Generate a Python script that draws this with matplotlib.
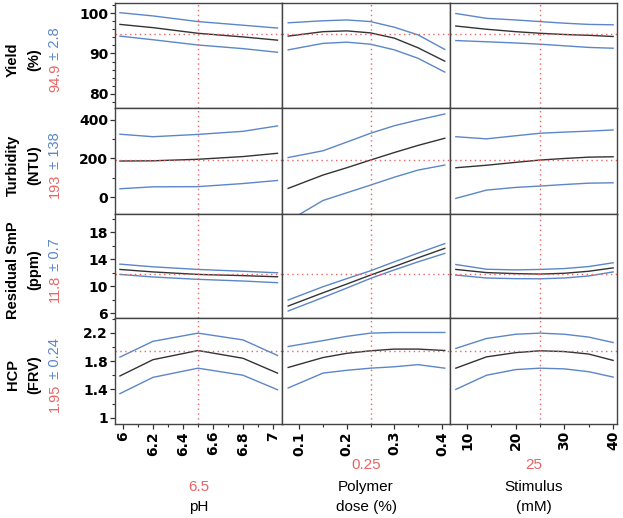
import numpy as np
import matplotlib
matplotlib.use("Agg")
import matplotlib.pyplot as plt
from matplotlib.ticker import MultipleLocator, FixedLocator, FormatStrFormatter

plt.rcParams['font.family'] = ['Liberation Sans', 'DejaVu Sans']

W, H = 623, 518
BLUE = '#5b86c8'
DARK = '#333333'
RED = '#ec6464'

# %% data read off the profiler

# factor settings (x of the curve points)
ph_x = [5.98, 6.2, 6.5, 6.8, 7.03]
dose_x = [0.077, 0.15, 0.2, 0.25, 0.3, 0.35, 0.406]
stim_x = [7.7, 14, 20, 25, 30, 35, 40]

# Yield (%)
yield_ph_hi = [100.1, 99.3, 97.9, 97.0, 96.3]
yield_ph_mid = [97.2, 96.4, 95.0, 94.1, 93.3]
yield_ph_lo = [94.3, 93.4, 92.1, 91.2, 90.3]
yield_dose_hi = [97.6, 98.1, 98.3, 97.9, 96.5, 94.6, 91.0]
yield_dose_mid = [94.3, 95.4, 95.6, 95.1, 93.8, 91.4, 88.1]
yield_dose_lo = [90.9, 92.5, 92.8, 92.3, 90.9, 88.8, 85.4]
yield_stim_hi = [99.9, 98.7, 98.3, 97.9, 97.5, 97.2, 97.1]
yield_stim_mid = [96.8, 96.0, 95.4, 95.0, 94.7, 94.5, 94.2]
yield_stim_lo = [93.2, 92.9, 92.6, 92.3, 91.9, 91.5, 91.3]

# Turbidity (NTU)
turb_ph_hi = [326, 313, 325, 341, 369]
turb_ph_mid = [187, 188, 196, 210, 227]
turb_ph_lo = [43, 53, 54, 70, 86]
turb_dose_hi = [205, 240, 285, 331, 370, 400, 431]
turb_dose_mid = [45, 114, 152, 192, 231, 268, 305]
turb_dose_lo = [-125, -18, 22, 62, 103, 140, 166]
turb_stim_hi = [313, 302, 318, 331, 337, 342, 348]
turb_stim_mid = [152, 165, 180, 192, 200, 207, 209]
turb_stim_lo = [-7, 36, 50, 57, 65, 72, 74]

# Residual SmP (ppm)
smp_ph_hi = [13.26, 12.86, 12.47, 12.2, 11.97]
smp_ph_mid = [12.47, 12.1, 11.73, 11.55, 11.38]
smp_ph_lo = [11.73, 11.35, 11.0, 10.75, 10.5]
smp_dose_hi = [7.93, 9.9, 11.1, 12.27, 13.6, 14.9, 16.3]
smp_dose_mid = [7.04, 9.0, 10.3, 11.63, 12.9, 14.2, 15.6]
smp_dose_lo = [6.3, 8.3, 9.7, 11.14, 12.4, 13.6, 14.85]
smp_stim_hi = [13.2, 12.5, 12.4, 12.47, 12.6, 12.9, 13.46]
smp_stim_mid = [12.47, 12.0, 11.85, 11.78, 11.9, 12.2, 12.7]
smp_stim_lo = [11.63, 11.2, 11.1, 11.08, 11.2, 11.5, 12.1]

# HCP (FRV)
hcp_ph_hi = [1.857, 2.08, 2.196, 2.1, 1.88]
hcp_ph_mid = [1.59, 1.82, 1.95, 1.84, 1.63]
hcp_ph_lo = [1.34, 1.57, 1.70, 1.60, 1.395]
hcp_dose_hi = [2.007, 2.09, 2.15, 2.196, 2.205, 2.205, 2.205]
hcp_dose_mid = [1.71, 1.85, 1.91, 1.946, 1.97, 1.97, 1.95]
hcp_dose_lo = [1.42, 1.63, 1.67, 1.70, 1.72, 1.75, 1.70]
hcp_stim_hi = [1.98, 2.12, 2.18, 2.196, 2.18, 2.14, 2.063]
hcp_stim_mid = [1.70, 1.86, 1.92, 1.946, 1.935, 1.9, 1.81]
hcp_stim_lo = [1.40, 1.60, 1.68, 1.70, 1.69, 1.65, 1.574]

# current settings / predictions
factor_set = [6.5, 0.25, 25]
factor_set_txt = ['6.5', '0.25', '25']
factor_names = ['pH', 'Polymer\ndose (%)', 'Stimulus\n(mM)']
resp_names = ['Yield\n(%)', 'Turbidity\n(NTU)', 'Residual SmP\n(ppm)', 'HCP\n(FRV)']
resp_pred = [94.9, 193, 11.8, 1.95]
resp_pred_txt = ['94.9', '193', '11.8', '1.95']
resp_ci_txt = ['2.8', '138', '0.7', '0.24']

# %% layout (pixel edges of the grid)
col_edges = [115, 282, 450, 617]
row_edges = [3, 108, 214, 318, 424]

xlims = [(5.947, 7.06), (0.064, 0.417), (6.5, 40.8)]
ylims = [(76.5, 102.5), (-88, 462), (5.26, 20.7), (0.91, 2.41)]
xmajor = [0.2, 0.1, 10]
xminor = [0.1, 0.05, 5]
ymajor = [[80, 90, 100], [0, 200, 400], [6, 10, 14, 18], [1, 1.4, 1.8, 2.2]]
yminor = [2, 100, 2, 0.2]

xs = [ph_x, dose_x, stim_x]
curves = [
    [(yield_ph_lo, yield_ph_mid, yield_ph_hi), (yield_dose_lo, yield_dose_mid, yield_dose_hi),
     (yield_stim_lo, yield_stim_mid, yield_stim_hi)],
    [(turb_ph_lo, turb_ph_mid, turb_ph_hi), (turb_dose_lo, turb_dose_mid, turb_dose_hi),
     (turb_stim_lo, turb_stim_mid, turb_stim_hi)],
    [(smp_ph_lo, smp_ph_mid, smp_ph_hi), (smp_dose_lo, smp_dose_mid, smp_dose_hi),
     (smp_stim_lo, smp_stim_mid, smp_stim_hi)],
    [(hcp_ph_lo, hcp_ph_mid, hcp_ph_hi), (hcp_dose_lo, hcp_dose_mid, hcp_dose_hi),
     (hcp_stim_lo, hcp_stim_mid, hcp_stim_hi)],
]

fig = plt.figure(figsize=(W / 100, H / 100), dpi=100)

for rr in range(4):
    for cc in range(3):
        x0, x1 = col_edges[cc], col_edges[cc + 1]
        y0, y1 = row_edges[rr], row_edges[rr + 1]
        ax = fig.add_axes([x0 / W, 1 - y1 / H, (x1 - x0) / W, (y1 - y0) / H])
        lo, mid, hi = curves[rr][cc]
        ax.plot(xs[cc], hi, color=BLUE, lw=1.0)
        ax.plot(xs[cc], lo, color=BLUE, lw=1.0)
        ax.plot(xs[cc], mid, color=DARK, lw=1.0)
        ax.axhline(resp_pred[rr], color=RED, lw=1.0, ls=(0, (1, 2.5)))
        ax.axvline(factor_set[cc], color=RED, lw=1.0, ls=(0, (1, 2.5)))
        ax.set_xlim(*xlims[cc])
        ax.set_ylim(*ylims[rr])
        for sp in ax.spines.values():
            sp.set_color('#444444')
            sp.set_linewidth(1.0)

        ax.yaxis.set_major_locator(FixedLocator(ymajor[rr]))
        ax.yaxis.set_minor_locator(MultipleLocator(yminor[rr]))
        ax.xaxis.set_major_locator(MultipleLocator(xmajor[cc]))
        ax.xaxis.set_minor_locator(MultipleLocator(xminor[cc]))
        ax.xaxis.set_major_formatter(FormatStrFormatter('%g'))
        ax.yaxis.set_major_formatter(FormatStrFormatter('%g'))
        ax.tick_params(which='major', length=3.5, width=0.9, color='#333333', pad=1.5)
        ax.tick_params(which='minor', length=2.2, width=0.8, color='#333333')
        ax.tick_params(left=(cc == 0), labelleft=(cc == 0),
                       bottom=(rr == 3), labelbottom=(rr == 3), which='both')
        for lab in ax.get_yticklabels() + ax.get_xticklabels():
            lab.set_fontweight('bold')
            lab.set_fontfamily('DejaVu Sans')
            lab.set_fontsize(10)
        if rr == 3:
            for lab in ax.get_xticklabels():
                lab.set_rotation(90)

# %% response labels on the left
renderer = fig.canvas.get_renderer()
for rr in range(4):
    yc = H - (row_edges[rr] + row_edges[rr + 1]) / 2 - 4
    name, unit = resp_names[rr].split('\n')
    fig.text(13 / W, yc / H, name, rotation=90, ha='center', va='center',
             fontsize=10.5, fontweight='bold', color='black')
    fig.text(34 / W, yc / H, unit, rotation=90, ha='center', va='center',
             fontsize=10.5, fontweight='bold', color='black')
    t1 = fig.text(55 / W, 0, resp_pred_txt[rr], rotation=90, ha='center', va='bottom',
                  fontsize=10.5, color=RED)
    t2 = fig.text(55 / W, 0, ' \u00b1 ' + resp_ci_txt[rr], rotation=90, ha='center',
                  va='bottom', fontsize=10.5, color=BLUE)
    h1 = t1.get_window_extent(renderer).height
    h2 = t2.get_window_extent(renderer).height
    ystart = yc - (h1 + h2) / 2
    t1.set_position((55 / W, ystart / H))
    t2.set_position((55 / W, (ystart + h1) / H))

# %% factor labels at the bottom
for cc in range(3):
    xc = (col_edges[cc] + col_edges[cc + 1]) / 2 / W
    lines = factor_names[cc].split('\n')
    if len(lines) == 1:
        fig.text(xc, 1 - 487 / H, factor_set_txt[cc], ha='center', va='center',
                 fontsize=11, color=RED)
        fig.text(xc, 1 - 507 / H, lines[0], ha='center', va='center', fontsize=11)
    else:
        fig.text(xc, 1 - 465 / H, factor_set_txt[cc], ha='center', va='center',
                 fontsize=11, color=RED)
        fig.text(xc, 1 - 487 / H, lines[0], ha='center', va='center', fontsize=11)
        fig.text(xc, 1 - 507 / H, lines[1], ha='center', va='center', fontsize=11)

fig.savefig('out.png', dpi=100)
